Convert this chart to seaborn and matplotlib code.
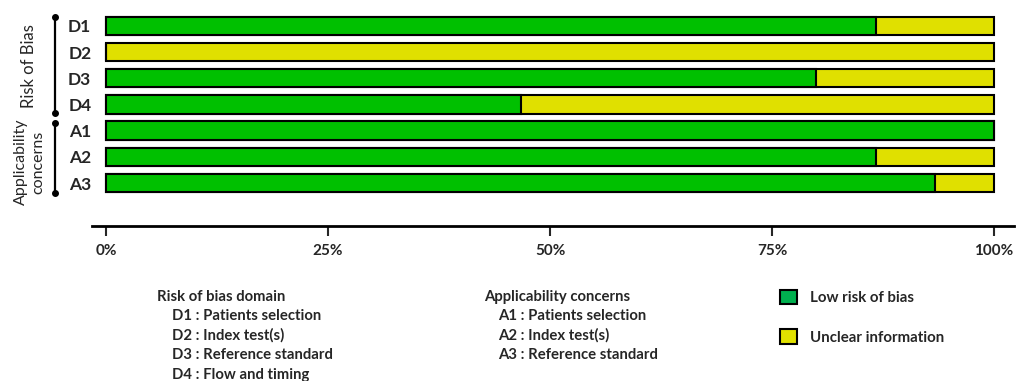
import matplotlib
matplotlib.use("Agg")
import matplotlib.pyplot as plt
import matplotlib.transforms as mtransforms
from matplotlib.patches import Patch
import seaborn as sns
import pandas as pd

# --- Donnees (pourcentage des etudes, QUADAS-2) ---
domains = ["D1", "D2", "D3", "D4", "A1", "A2", "A3"]
low_risk = [86.7, 0.0, 80.0, 46.7, 100.0, 86.7, 93.3]
unclear = [13.3, 100.0, 20.0, 53.3, 0.0, 13.3, 6.7]
x_ticks = [0, 25, 50, 75, 100]
x_tick_labels = ["0%", "25%", "50%", "75%", "100%"]

rob_lines = ["Risk of bias domain", "D1 : Patients selection", "D2 : Index test(s)",
             "D3 : Reference standard", "D4 : Flow and timing"]
app_lines = ["Applicability concerns", "A1 : Patients selection", "A2 : Index test(s)",
             "A3 : Reference standard"]
legend_labels = ["Low risk of bias", "Unclear information"]

GREEN = "#00C000"
GREEN_LEG = "#00B04F"
YELLOW = "#E0E000"

df = pd.DataFrame({"domain": domains, "low": low_risk, "unclear": unclear})
df["total"] = df["low"] + df["unclear"]

sns.set_style("white")
plt.rcParams["font.family"] = ["Lato", "DejaVu Sans"]

W, H = 1017, 381
fig = plt.figure(figsize=(W / 100, H / 100), dpi=100)

# axe principal : 0 -> x=106px, 100 -> x=994px
px_per_unit = 8.88
x0_px = 106
left_px, right_px = 92, 1014
xlim = ((left_px - x0_px) / px_per_unit, (right_px - x0_px) / px_per_unit)
row_px = 26.2
ylim_bottom, ylim_top = 7.64, -0.6
bottom_px = 226
height_px = (ylim_bottom - ylim_top) * row_px
ax = fig.add_axes([left_px / W, 1 - bottom_px / H, (right_px - left_px) / W, height_px / H])

sns.barplot(data=df, x="total", y="domain", orient="h", color=YELLOW, width=0.7,
            edgecolor="black", linewidth=1.5, saturation=1, ax=ax)
sns.barplot(data=df, x="low", y="domain", orient="h", color=GREEN, width=0.7,
            edgecolor="black", linewidth=1.5, saturation=1, ax=ax)

ax.set_xlim(*xlim)
ax.set_ylim(ylim_bottom, ylim_top)
ax.set_xlabel("")
ax.set_ylabel("")
ax.set_xticks(x_ticks)
ax.set_xticklabels(x_tick_labels, fontweight="bold", fontsize=11)
ax.tick_params(axis="x", direction="out", length=7, width=1.5, pad=6, bottom=True)
ax.tick_params(axis="y", length=0, pad=0.5, labelsize=12.5)
for lab in ax.get_yticklabels():
    lab.set_fontweight("bold")
for side in ["top", "right", "left"]:
    ax.spines[side].set_visible(False)
ax.spines["bottom"].set_linewidth(2)
ax.spines["bottom"].set_color("black")

# --- Accolades laterales ---
trans = mtransforms.blended_transform_factory(fig.transFigure, ax.transData)
bx = 55 / W
for y0, y1 in [(-0.35, 3.33), (3.72, 6.38)]:
    ax.plot([bx, bx], [y0, y1], color="black", lw=1.6, transform=trans, clip_on=False)
    ax.plot([bx, bx], [y0, y1], "o", color="black", ms=4, transform=trans, clip_on=False)
ax.text(29 / W, 1.53, "Risk of Bias", rotation=90, ha="center", va="center",
        fontsize=12, transform=trans)
ax.text(30 / W, 5.2, "Applicability\nconcerns", rotation=90, ha="center", va="center",
        fontsize=11.5, linespacing=1.3, transform=trans, multialignment="center")

# --- Legende des domaines ---
line_step = 19.4
for i, txt in enumerate(rob_lines):
    x = 157 if i == 0 else 172
    fig.text(x / W, 1 - (297 + i * line_step) / H, txt, fontsize=10.7, fontweight="bold",
             ha="left", va="center")
for i, txt in enumerate(app_lines):
    x = 484 if i == 0 else 498
    fig.text(x / W, 1 - (297 + i * line_step) / H, txt, fontsize=10.7, fontweight="bold",
             ha="left", va="center")

handles = [Patch(facecolor=GREEN_LEG, edgecolor="black", linewidth=1.5),
           Patch(facecolor=YELLOW, edgecolor="black", linewidth=1.5)]
leg = fig.legend(handles, legend_labels, loc="upper left", bbox_to_anchor=(772 / W, 1 - 282 / H),
                 frameon=False, handlelength=1.15, handleheight=1.15, labelspacing=1.6,
                 handletextpad=0.9, borderpad=0, prop={"weight": "bold", "size": 10.8})

fig.savefig("out.png", dpi=100)
